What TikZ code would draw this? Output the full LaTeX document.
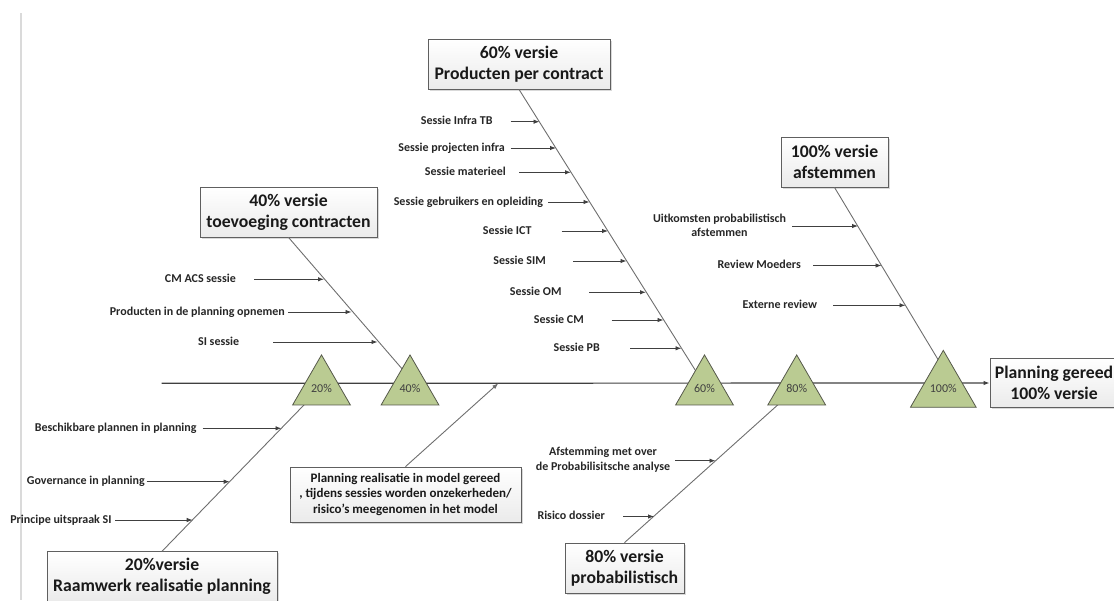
\documentclass[tikz,border=0pt]{standalone}
\usepackage{fontspec}
\setmainfont{Carlito}
\usetikzlibrary{arrows.meta,shapes.geometric,shadows}
\definecolor{spinegray}{HTML}{404040}
\definecolor{bonegray}{HTML}{6E6E6E}
\definecolor{trifill}{HTML}{BACB92}
\definecolor{triline}{HTML}{55584A}
\definecolor{labeltext}{HTML}{262626}
\definecolor{boxline}{HTML}{5F5F5F}
\definecolor{railgray}{HTML}{DADADA}

\begin{document}
\begin{tikzpicture}[x=1pt,y=-1pt,
  titlebox/.style={draw=boxline, line width=0.8pt, top color=white, bottom color=black!8,
    drop shadow={shadow xshift=1.5pt,shadow yshift=-1.5pt,opacity=0.3},
    font=\fontsize{17.7}{21}\selectfont\bfseries, text=black!90, align=center, inner sep=0pt},
  notebox/.style={titlebox, font=\fontsize{13}{15.5}\selectfont\bfseries},
  cause/.style={font=\fontsize{12}{14.6}\selectfont\bfseries, text=labeltext, inner sep=0pt,
    text height=8.5pt, text depth=2.5pt},
  cause2/.style={font=\fontsize{12}{14.6}\selectfont\bfseries, text=labeltext, inner sep=0pt, align=center},
  milestone/.style={regular polygon, regular polygon sides=3, minimum size=66.7pt, inner sep=0pt,
    fill=trifill, draw=triline, line width=0.8pt, font=\fontsize{12}{14}\selectfont, text=black!75},
  spine/.style={draw=spinegray, line width=1.2pt},
  bone/.style={draw=bonegray, line width=0.9pt},
  arr/.style={draw=spinegray, line width=0.9pt, -{Latex[length=6pt,width=4.5pt]}},
]
\useasboundingbox (0,0) rectangle (1114,600);

% page rail on the left
\draw[railgray, line width=2pt] (21,13) -- (21,600);

% title boxes
\node[titlebox, minimum width=177pt, minimum height=50pt] (b40) at (288.5,212) {40\% versie\\toevoeging contracten};
\node[titlebox, minimum width=182pt, minimum height=50pt] (b60) at (519,64) {60\% versie\\Producten per contract};
\node[titlebox, minimum width=107pt, minimum height=50pt] (b100) at (834.5,162) {100\% versie\\afstemmen};
\node[titlebox, minimum width=230pt, minimum height=50pt] (b20) at (162,576.7) {20\%versie\\Raamwerk realisatie planning};
\node[titlebox, minimum width=119pt, minimum height=50pt] (b80) at (624.5,568) {80\% versie\\probabilistisch};
\node[titlebox, minimum width=128pt, minimum height=49.5pt] (goal) at (1054,383) {Planning gereed\\100\% versie};
\node[notebox, minimum width=231pt, minimum height=55pt] (note) at (405.5,494.5)
  {Planning realisatie in model gereed\\, tijdens sessies worden onzekerheden/\\risico’s meegenomen in het model};

% main spine
\coordinate (tail) at (161.7,383.3);
\draw[spine, -{Latex[length=6pt,width=4.5pt]}] (tail) -- (goal.west);

% bones (ends hidden under the milestone triangles)
\coordinate (e40) at (404.8,372);
\coordinate (e60) at (698.3,375);
\coordinate (e100) at (941.3,365);
\coordinate (e20) at (308.8,400);
\coordinate (e80) at (783.2,400);
\draw[bone] (b40.south) -- (e40);
\draw[bone] (b60.south) -- (e60);
\draw[bone] (b100.south) -- (e100);
\draw[bone] (b20.north) -- (e20);
\draw[bone] (b80.north) -- (e80);

% note arrow up to the spine
\coordinate (nh) at (498.3,383.3);
\draw[bone, -{Latex[length=6pt,width=4.5pt]}, draw=bonegray] (note.north) -- (nh);

% causes: name / label right edge / arrow tail / arrow tip / y / text
\foreach \n/\lx/\tx/\hx/\yy/\txt in {
  c1/236/254/324/279.3/{CM ACS sessie},
  c2/285/288.3/351.5/312/{Producten in de planning opnemen},
  c3/239.3/273.3/377.5/342/{SI sessie},
  s1/492.7/510.7/539.5/121.7/{Sessie Infra TB},
  s2/505/510.7/556/148/{Sessie projecten infra},
  s3/506/519.3/571/172.3/{Sessie materieel},
  s4/543.3/548.3/589.5/202/{Sessie gebruikers en opleiding},
  s5/531.7/561.7/608/231/{Sessie ICT},
  s6/546/573.3/626.5/261/{Sessie SIM},
  s7/561.7/589.3/646/292.3/{Sessie OM},
  s8/584/611.7/663.5/320/{Sessie CM},
  s9/600/630/681.5/348.3/{Sessie PB},
  r2/801/813.3/881.5/265.5/{Review Moeders},
  r3/817.3/833.3/905.5/305.3/{Externe review},
  p1/196.7/202.7/281.5/428.3/{Beschikbare plannen in planning},
  p2/145/146.7/229.7/481.7/{Governance in planning},
  p3/111.7/115/192.7/520/{Principe uitspraak SI},
  k2/605/623.3/654/516.5/{Risico dossier}} {
  \node[cause, anchor=east] (\n) at (\lx,\yy) {\txt};
  \coordinate (\n t) at (\tx,\yy);
  \coordinate (\n h) at (\hx,\yy);
  \draw[arr] (\n t) -- (\n h);
}

% two-line causes
\node[cause2] (r1) at (719.5,225.3) {Uitkomsten probabilistisch\\afstemmen};
\coordinate (r1t) at (792.3,226);
\coordinate (r1h) at (858,226);
\draw[arr] (r1t) -- (r1h);
\node[cause2] (k1) at (603,460) {Afstemming met over\\de Probabilisitsche analyse};
\coordinate (k1t) at (675,460.7);
\coordinate (k1h) at (715.5,460.7);
\draw[arr] (k1t) -- (k1h);

% milestones
\node[milestone] (m20) at (321.5,388.3) {20\%};
\node[milestone] (m40) at (410,388.3) {40\%};
\node[milestone] (m60) at (704.5,388.3) {60\%};
\node[milestone] (m80) at (796.7,388.3) {80\%};
\node[milestone] (m100) at (943.3,388.3) {100\%};
\end{tikzpicture}
\end{document}
